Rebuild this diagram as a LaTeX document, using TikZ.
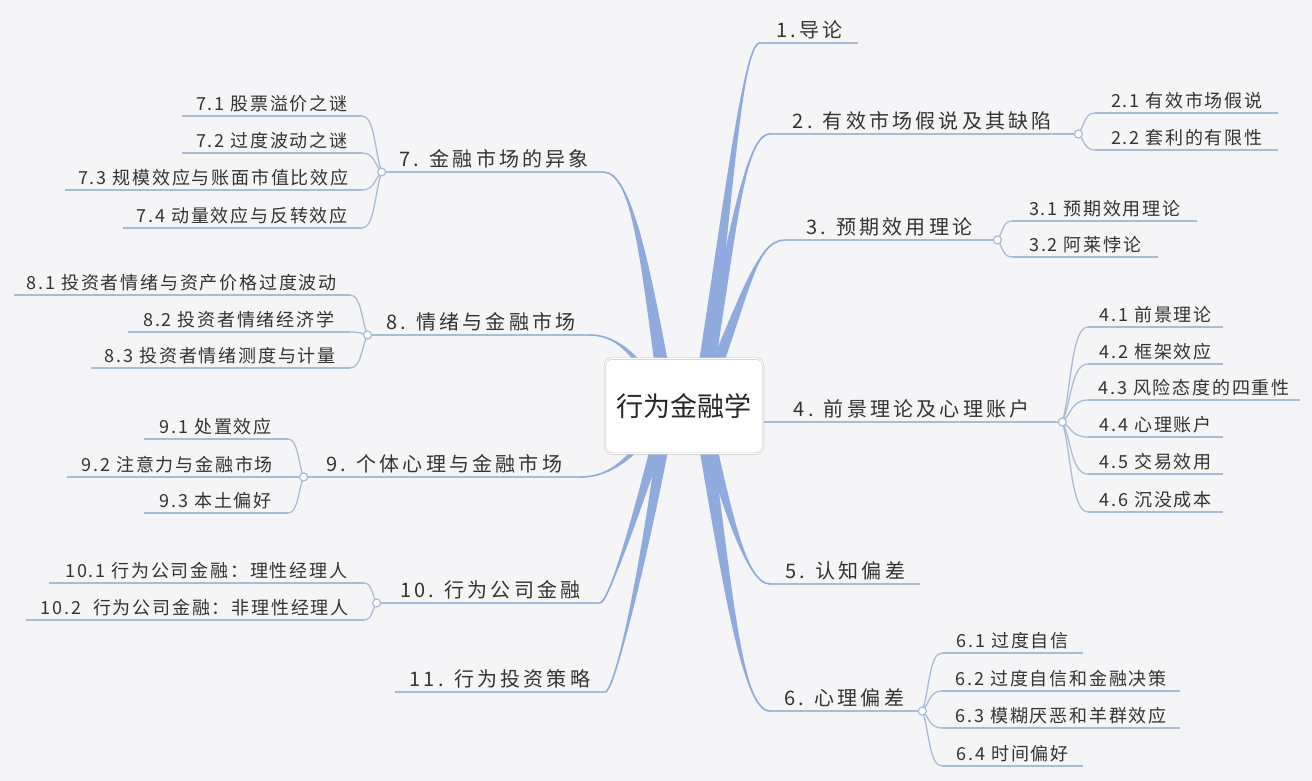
\documentclass[tikz,border=0pt]{standalone}
\usepackage{fontspec}
\setmainfont{Noto Sans CJK SC}
\newfontfamily\topicfont[LetterSpace=16]{Noto Sans CJK SC}
\newfontfamily\subfont[LetterSpace=10]{Noto Sans CJK SC}
\usetikzlibrary{calc, positioning}

\definecolor{bgc}{HTML}{F5F5F7}
\definecolor{limbc}{HTML}{8FAADC}
\definecolor{linec}{HTML}{A9BBD6}
\definecolor{inkc}{HTML}{333333}

\pgfdeclarelayer{canvas}
\pgfdeclarelayer{background}
\pgfsetlayers{canvas,background,main}

\tikzset{
  root/.style={draw=gray!55, double=white, double distance=1.2pt, fill=white,
    rounded corners=7pt, minimum width=158, minimum height=95,
    text=black!85, font=\fontsize{27}{32}\selectfont},
  topic/.style={inner xsep=0pt, inner ysep=4pt, text=inkc,
    font=\topicfont\fontsize{20}{24}\selectfont},
  subtopic/.style={inner xsep=0pt, inner ysep=4pt, text=inkc,
    font=\subfont\fontsize{18}{22}\selectfont},
  uline/.style={draw=linec, line width=1.5pt},
  twig/.style={draw=linec, line width=1.3pt},
  knot/.style={circle, draw=linec, line width=1.2pt, fill=white, inner sep=0pt, minimum size=8},
  limb/.style={fill=limbc},
  limb edge/.style={draw=limbc, line width=1.6pt}
}

% tapered main branch: start, control 1, control 2, end, half width
\newcommand{\limb}[5]{%
  \fill[limb] ($(#1)+(#5)$) .. controls ($(#2)+0.55*(#5)$) and (#3) .. (#4)
    .. controls (#3) and ($(#2)-0.55*(#5)$) .. ($(#1)-(#5)$) -- cycle;
  \draw[limb edge] (#1) .. controls (#2) and (#3) .. (#4);}
% thin branch from a knot to a subtopic
\newcommand{\twig}[2]{%
  \draw[twig] (#1) .. controls ($(#1)!0.35!(#2)$) and ($(#2)!0.65!(#1 |- #2)$) .. (#2);}

\begin{document}
\begin{tikzpicture}[x=1pt, y=-1pt]
\useasboundingbox (0,0) rectangle (1312,781);
\begin{pgfonlayer}{canvas}
  \fill[bgc] (0,0) rectangle (1312,781);
\end{pgfonlayer}

\node[root] (root) at (684,406) {行为金融学};
\coordinate (hubR) at (700,406);
\coordinate (hubL) at (668,406);

% right side
\node[topic, anchor=south west, minimum width=98] (t1) at (760,43) {1.导论};
\node[topic, anchor=south west, minimum width=304] (t2) at (770,134) {2. 有效市场假说及其缺陷};
\node[topic, anchor=south west, minimum width=208] (t3) at (785,240) {3. 预期效用理论};
\node[topic, anchor=south west, minimum width=293] (t4) at (765,422) {4. 前景理论及心理账户};
\node[topic, anchor=south west, minimum width=150] (t5) at (770,584) {5. 认知偏差};
\node[topic, anchor=south west, minimum width=148] (t6) at (770,711) {6. 心理偏差};

\node[subtopic, anchor=south west, minimum width=183] (s21) at (1095,113) {2.1 有效市场假说};
\node[subtopic, anchor=south west, minimum width=183] (s22) at (1095,150) {2.2 套利的有限性};
\node[subtopic, anchor=south west, minimum width=185] (s31) at (1012,221) {3.1 预期效用理论};
\node[subtopic, anchor=south west, minimum width=146] (s32) at (1012,257) {3.2 阿莱悖论};
\node[subtopic, anchor=south west, minimum width=135] (s41) at (1088,327) {4.1 前景理论};
\node[subtopic, anchor=south west, minimum width=135] (s42) at (1088,364) {4.2 框架效应};
\node[subtopic, anchor=south west, minimum width=212] (s43) at (1088,400) {4.3 风险态度的四重性};
\node[subtopic, anchor=south west, minimum width=135] (s44) at (1088,437) {4.4 心理账户};
\node[subtopic, anchor=south west, minimum width=135] (s45) at (1088,474) {4.5 交易效用};
\node[subtopic, anchor=south west, minimum width=135] (s46) at (1088,512) {4.6 沉没成本};
\node[subtopic, anchor=south west, minimum width=141] (s61) at (942,653) {6.1 过度自信};
\node[subtopic, anchor=south west, minimum width=238] (s62) at (942,691) {6.2 过度自信和金融决策};
\node[subtopic, anchor=south west, minimum width=238] (s63) at (942,728) {6.3 模糊厌恶和羊群效应};
\node[subtopic, anchor=south west, minimum width=141] (s64) at (942,766) {6.4 时间偏好};

% left side
\node[topic, anchor=south east, minimum width=217] (t7) at (603,172) {7. 金融市场的异象};
\node[topic, anchor=south east, minimum width=218] (t8) at (590,335) {8. 情绪与金融市场};
\node[topic, anchor=south east, minimum width=273] (t9) at (581,477) {9. 个体心理与金融市场};
\node[topic, anchor=south east, minimum width=219] (t10) at (600,603) {10. 行为公司金融};
\node[topic, anchor=south east, minimum width=210] (t11) at (605,692) {11. 行为投资策略};

\node[subtopic, anchor=south east, minimum width=180] (s71) at (362,116) {7.1 股票溢价之谜};
\node[subtopic, anchor=south east, minimum width=180] (s72) at (362,153) {7.2 过度波动之谜};
\node[subtopic, anchor=south east, minimum width=297] (s73) at (362,190) {7.3 规模效应与账面市值比效应};
\node[subtopic, anchor=south east, minimum width=239] (s74) at (362,228) {7.4 动量效应与反转效应};
\node[subtopic, anchor=south east, minimum width=336] (s81) at (350,295) {8.1 投资者情绪与资产价格过度波动};
\node[subtopic, anchor=south east, minimum width=222] (s82) at (350,332) {8.2 投资者情绪经济学};
\node[subtopic, anchor=south east, minimum width=259] (s83) at (350,368) {8.3 投资者情绪测度与计量};
\node[subtopic, anchor=south east, minimum width=144] (s91) at (288,439) {9.1 处置效应};
\node[subtopic, anchor=south east, minimum width=221] (s92) at (288,477) {9.2 注意力与金融市场};
\node[subtopic, anchor=south east, minimum width=144] (s93) at (288,513) {9.3 本土偏好};
\node[subtopic, anchor=south east, minimum width=315] (s101) at (364,583) {10.1 行为公司金融：理性经理人};
\node[subtopic, anchor=south east, minimum width=338] (s102) at (364,620) {10.2\ \ 行为公司金融：非理性经理人};

% underlines
\foreach \n in {t1,t2,t3,t4,t5,t6,t7,t8,t9,t10,t11,
  s21,s22,s31,s32,s41,s42,s43,s44,s45,s46,s61,s62,s63,s64,
  s71,s72,s73,s74,s81,s82,s83,s91,s92,s93,s101,s102}
  \draw[uline] (\n.south west) -- (\n.south east);

% knots
\coordinate (j2) at ($(t2.south east)+(4,0)$);
\coordinate (j3) at ($(t3.south east)+(4,0)$);
\coordinate (j4) at ($(t4.south east)+(4,0)$);
\coordinate (j6) at ($(t6.south east)+(4,0)$);
\coordinate (j7) at ($(t7.south west)+(-4,0)$);
\coordinate (j8) at ($(t8.south west)+(-4,0)$);
\coordinate (j9) at ($(t9.south west)+(-4,0)$);
\coordinate (j10) at ($(t10.south west)+(-4,0)$);

\twig{j2}{s21.south west} \twig{j2}{s22.south west}
\twig{j3}{s31.south west} \twig{j3}{s32.south west}
\foreach \s in {s41,s42,s43,s44,s45,s46} \twig{j4}{\s.south west};
\foreach \s in {s61,s62,s63,s64} \twig{j6}{\s.south west};
\foreach \s in {s71,s72,s73,s74} \twig{j7}{\s.south east};
\foreach \s in {s81,s82,s83} \twig{j8}{\s.south east};
\foreach \s in {s91,s92,s93} \twig{j9}{\s.south east};
\foreach \s in {s101,s102} \twig{j10}{\s.south east};

\node[knot] (k2) at (j2) {};
\node[knot] (k3) at (j3) {};
\node[knot] (k4) at (j4) {};
\node[knot] (k6) at (j6) {};
\node[knot] (k7) at (j7) {};
\node[knot] (k8) at (j8) {};
\node[knot] (k9) at (j9) {};
\node[knot] (k10) at (j10) {};

% main branches
\begin{pgfonlayer}{background}
\limb{hubR}{728,210}{742,43}{t1.south west}{8,0}
\limb{hubR}{730,260}{742,134}{t2.south west}{8,0}
\limb{hubR}{745,300}{755,240}{t3.south west}{8,0}
\limb{hubR}{735,418}{745,422}{t4.south west}{0,8}
\limb{hubR}{725,500}{745,584}{t5.south west}{8,0}
\limb{hubR}{728,590}{742,711}{t6.south west}{8,0}
\limb{hubL}{645,260}{632,172}{t7.south east}{8,0}
\limb{hubL}{640,360}{620,335}{t8.south east}{0,8}
\limb{hubL}{640,450}{615,477}{t9.south east}{0,8}
\limb{hubL}{650,470}{610,603}{t10.south east}{8,0}
\limb{hubL}{660,480}{618,692}{t11.south east}{8,0}
\end{pgfonlayer}
\end{tikzpicture}
\end{document}
